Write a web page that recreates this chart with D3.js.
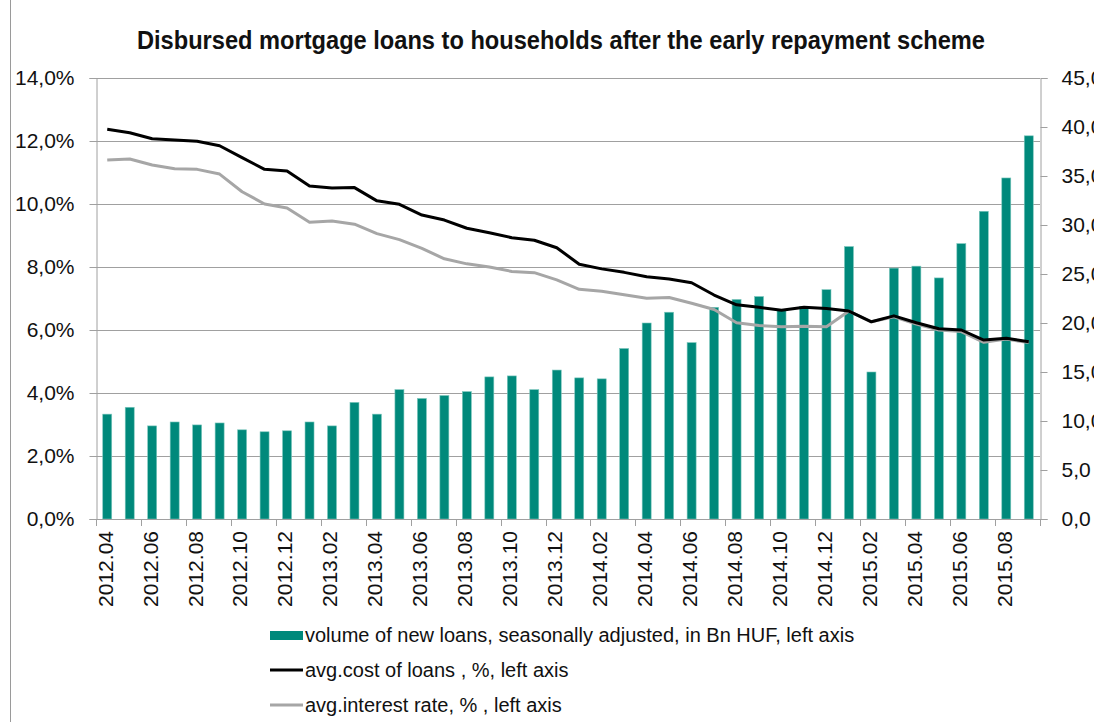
<!DOCTYPE html>
<html>
<head>
<meta charset="utf-8">
<script src="https://cdn.jsdelivr.net/npm/d3@7"></script>
<style>
  html, body { margin: 0; padding: 0; background: #fff; }
  svg { display: block; }
  text { font-family: "Liberation Sans Narrow", "Arial Narrow", "Liberation Sans", Arial, sans-serif; fill: #111; }
</style>
</head>
<body>
<svg id="chart" width="1094" height="722"></svg>
<script>
// Monthly categories, 2012.04 – 2015.09
const months = [
  "2012.04","2012.05","2012.06","2012.07","2012.08","2012.09","2012.10","2012.11","2012.12",
  "2013.01","2013.02","2013.03","2013.04","2013.05","2013.06","2013.07","2013.08","2013.09","2013.10","2013.11","2013.12",
  "2014.01","2014.02","2014.03","2014.04","2014.05","2014.06","2014.07","2014.08","2014.09","2014.10","2014.11","2014.12",
  "2015.01","2015.02","2015.03","2015.04","2015.05","2015.06","2015.07","2015.08","2015.09"
];

// Volume of new loans, seasonally adjusted, Bn HUF
const volume = [
  10.7, 11.4, 9.5, 9.9, 9.6, 9.8, 9.1, 8.9, 9.0,
  9.9, 9.5, 11.9, 10.7, 13.2, 12.3, 12.6, 13.0, 14.5, 14.6, 13.2, 15.2,
  14.4, 14.3, 17.4, 20.0, 21.1, 18.0, 21.6, 22.4, 22.7, 21.3, 21.7, 23.4,
  27.8, 15.0, 25.6, 25.8, 24.6, 28.1, 31.4, 34.8, 39.1
];

// Average cost of loans, %
const avgCost = [
  12.37, 12.26, 12.07, 12.03, 11.99, 11.85, 11.47, 11.10, 11.05,
  10.57, 10.51, 10.52, 10.10, 9.99, 9.65, 9.49, 9.23, 9.09, 8.93, 8.85, 8.61,
  8.09, 7.94, 7.83, 7.69, 7.62, 7.50, 7.11, 6.80, 6.72, 6.63, 6.72, 6.68,
  6.60, 6.26, 6.45, 6.23, 6.04, 6.00, 5.68, 5.74, 5.63
];

// Average interest rate, %
const avgRate = [
  11.40, 11.43, 11.24, 11.12, 11.10, 10.95, 10.39, 10.00, 9.87,
  9.42, 9.46, 9.36, 9.06, 8.87, 8.59, 8.26, 8.10, 8.00, 7.86, 7.82, 7.59,
  7.29, 7.23, 7.12, 7.01, 7.03, 6.85, 6.65, 6.23, 6.14, 6.10, 6.12, 6.10,
  6.60, 6.26, 6.42, 6.19, 6.00, 5.95, 5.61, 5.71, 5.60
];

const leftTicks = [0, 2, 4, 6, 8, 10, 12, 14];
const rightTicks = [0, 5, 10, 15, 20, 25, 30, 35, 40, 45];

const legendItems = [
  "volume of new loans, seasonally adjusted, in Bn HUF, left axis",
  "avg.cost of loans , %, left axis",
  "avg.interest rate, % , left axis"
];

const titleText = "Disbursed mortgage loans to households after the early repayment scheme";

const colors = { bar: "#00897B", cost: "#000000", rate: "#A6A6A6", grid: "#A0A0A0" };

const svg = d3.select("#chart");
const plot = { left: 96, right: 1040, top: 78, bottom: 519 };

const x = d3.scaleBand()
  .domain(months)
  .range([plot.left, plot.right])
  .paddingInner(0.6)
  .paddingOuter(0.3);

const yL = d3.scaleLinear().domain([0, 14]).range([plot.bottom, plot.top]);
const yR = d3.scaleLinear().domain([0, 45]).range([plot.bottom, plot.top]);

const comma = f => v => f(v).replace(".", ",");
const fmtL = comma(d3.format(".1f"));

// outer frame line
svg.append("line")
  .attr("x1", 10.5).attr("x2", 10.5).attr("y1", 0).attr("y2", 722)
  .attr("stroke", "#9a9a9a").attr("stroke-width", 1);

// title (condensed to the narrow face's width)
svg.append("text")
  .attr("x", 137).attr("y", 49)
  .attr("font-size", 25).attr("font-weight", "bold")
  .attr("textLength", 848).attr("lengthAdjust", "spacingAndGlyphs")
  .text(titleText);

// horizontal grid
svg.append("g")
  .selectAll("line")
  .data(leftTicks.slice(1))
  .join("line")
  .attr("x1", plot.left).attr("x2", plot.right)
  .attr("y1", d => Math.round(yL(d)) + 0.5).attr("y2", d => Math.round(yL(d)) + 0.5)
  .attr("stroke", colors.grid).attr("stroke-width", 1);

// left axis
const gL = svg.append("g")
  .attr("transform", `translate(${plot.left + 0.5},0)`)
  .call(d3.axisLeft(yL).tickValues(leftTicks).tickSize(7).tickPadding(15).tickFormat(d => fmtL(d) + "%"));
gL.select(".domain").attr("stroke", colors.grid);
gL.selectAll(".tick line").attr("stroke", colors.grid);
gL.selectAll(".tick text").attr("font-size", 21).attr("font-family", null);

// right axis
const gR = svg.append("g")
  .attr("transform", `translate(${plot.right + 0.5},0)`)
  .call(d3.axisRight(yR).tickValues(rightTicks).tickSize(7).tickPadding(14).tickFormat(fmtL));
gR.select(".domain").attr("stroke", colors.grid);
gR.selectAll(".tick line").attr("stroke", colors.grid);
gR.selectAll(".tick text").attr("font-size", 21).attr("font-family", null);

// bars (right scale)
svg.append("g")
  .selectAll("rect")
  .data(months)
  .join("rect")
  .attr("x", d => x(d))
  .attr("width", x.bandwidth())
  .attr("y", (d, i) => yR(volume[i]))
  .attr("height", (d, i) => plot.bottom - yR(volume[i]))
  .attr("fill", colors.bar)
  .attr("stroke", "#7cc7bd").attr("stroke-width", 0.6);

// x axis baseline and ticks
const gap = x.step() * x.paddingInner() / 2;
svg.append("line")
  .attr("x1", plot.left).attr("x2", plot.right)
  .attr("y1", plot.bottom + 0.5).attr("y2", plot.bottom + 0.5)
  .attr("stroke", colors.grid);
const tickXs = months.filter((d, i) => i % 2 === 0).map(d => x(d) - gap);
tickXs.push(plot.right);
svg.append("g")
  .selectAll("line")
  .data(tickXs)
  .join("line")
  .attr("x1", d => Math.round(d) + 0.5).attr("x2", d => Math.round(d) + 0.5)
  .attr("y1", plot.bottom).attr("y2", plot.bottom + 7)
  .attr("stroke", colors.grid);

// x labels, every second month, rotated
svg.append("g")
  .selectAll("text")
  .data(months.filter((d, i) => i % 2 === 0))
  .join("text")
  .attr("transform", d => `translate(${x(d) + x.bandwidth() / 2 - 2},${plot.bottom + 12}) rotate(-90)`)
  .attr("text-anchor", "end")
  .attr("dy", "0.35em")
  .attr("font-size", 21)
  .text(d => d);

// lines (left scale)
const line = d3.line()
  .x((d, i) => x(months[i]) + x.bandwidth() / 2)
  .y(d => yL(d));

svg.append("path")
  .datum(avgRate)
  .attr("d", line)
  .attr("fill", "none")
  .attr("stroke", colors.rate).attr("stroke-width", 3)
  .attr("stroke-linejoin", "round");

svg.append("path")
  .datum(avgCost)
  .attr("d", line)
  .attr("fill", "none")
  .attr("stroke", colors.cost).attr("stroke-width", 3)
  .attr("stroke-linejoin", "round");

// legend
const lg = svg.append("g").attr("transform", "translate(270,0)");
const rows = [
  { y: 635, type: "rect", color: colors.bar },
  { y: 670, type: "line", color: colors.cost },
  { y: 705, type: "line", color: colors.rate }
];
rows.forEach((r, i) => {
  if (r.type === "rect") {
    lg.append("rect").attr("x", 0).attr("y", r.y - 4).attr("width", 33).attr("height", 9).attr("fill", r.color);
  } else {
    lg.append("line").attr("x1", 0).attr("x2", 33).attr("y1", r.y).attr("y2", r.y)
      .attr("stroke", r.color).attr("stroke-width", 3);
  }
  lg.append("text")
    .attr("x", 35).attr("y", r.y).attr("dy", "0.35em")
    .attr("font-size", 20)
    .text(legendItems[i]);
});
</script>
</body>
</html>
